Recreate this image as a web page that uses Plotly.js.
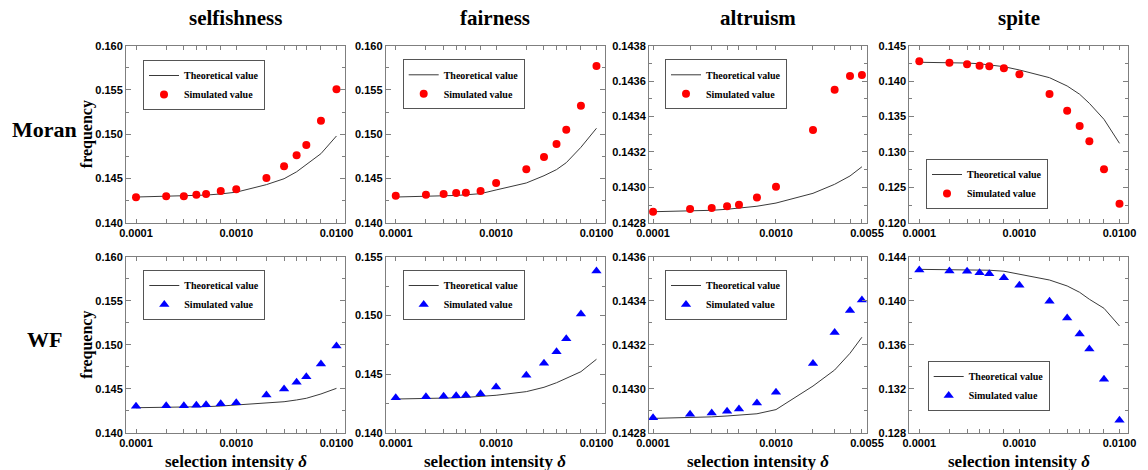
<!DOCTYPE html>
<html>
<head>
<meta charset="utf-8">
<script src="https://cdn.plot.ly/plotly-3.0.1.min.js"></script>
<style>html,body{margin:0;padding:0;background:#fff}#chart{width:1148px;height:470px}</style>
</head>
<body>
<div id="chart"></div>
<script>
// ---------- DATA ----------
const deltaFull = [0.0001,0.0002,0.0003,0.0004,0.0005,0.0007,0.001,0.002,0.003,0.004,0.005,0.007,0.01];
const deltaAltruism = [0.0001,0.0002,0.0003,0.0004,0.0005,0.0007,0.001,0.002,0.003,0.004,0.005];

const columnTitles = ["selfishness","fairness","altruism","spite"];
const rowTitles = ["Moran","WF"];

// Moran process
const selfishMoranTheory = [0.14290,0.14296,0.14300,0.14306,0.14312,0.14325,0.14345,0.14430,0.14497,0.14575,0.14655,0.14780,0.14980];
const selfishMoranSim    = [0.14287,0.14300,0.14300,0.14316,0.14324,0.14358,0.14377,0.14505,0.14637,0.14761,0.14878,0.15153,0.15507];
const fairMoranTheory    = [0.14290,0.14296,0.14302,0.14308,0.14315,0.14328,0.14370,0.14449,0.14531,0.14600,0.14678,0.14852,0.15067];
const fairMoranSim       = [0.14305,0.14316,0.14324,0.14336,0.14339,0.14358,0.14449,0.14603,0.14742,0.14889,0.15051,0.15322,0.15771];
const altrMoranTheory    = [0.142862,0.142866,0.142870,0.142876,0.142882,0.142893,0.142911,0.142966,0.143017,0.143064,0.143116];
const altrMoranSim       = [0.142862,0.142877,0.142883,0.142893,0.142902,0.142943,0.143003,0.143324,0.143551,0.143629,0.143634];
const spiteMoranTheory   = [0.14266,0.14262,0.14255,0.14245,0.14230,0.14204,0.14157,0.14048,0.13931,0.13814,0.13686,0.13460,0.13121];
const spiteMoranSim      = [0.14280,0.14260,0.14237,0.14218,0.14209,0.14181,0.14096,0.13818,0.13582,0.13366,0.13150,0.12754,0.12268];

// Wright-Fisher process
const selfishWFTheory = [0.14284,0.14287,0.14290,0.14293,0.14296,0.14303,0.14315,0.14334,0.14352,0.14372,0.14391,0.14440,0.14504];
const selfishWFSim    = [0.14300,0.14307,0.14307,0.14311,0.14318,0.14330,0.14341,0.14428,0.14497,0.14572,0.14636,0.14781,0.14985];
const fairWFTheory    = [0.14287,0.14290,0.14293,0.14297,0.14301,0.14308,0.14319,0.14350,0.14387,0.14426,0.14463,0.14520,0.14626];
const fairWFSim       = [0.14298,0.14307,0.14310,0.14315,0.14319,0.14332,0.14389,0.14489,0.14591,0.14690,0.14801,0.15012,0.15378];
const altrWFTheory    = [0.142865,0.142868,0.142872,0.142876,0.142880,0.142886,0.142905,0.143012,0.143085,0.143161,0.143234];
const altrWFSim       = [0.142868,0.142884,0.142890,0.142897,0.142908,0.142935,0.142984,0.143114,0.143255,0.143355,0.143403];
const spiteWFTheory   = [0.14285,0.14284,0.14282,0.14280,0.14277,0.14268,0.14240,0.14188,0.14134,0.14076,0.14013,0.13931,0.13770];
const spiteWFSim      = [0.14279,0.14270,0.14267,0.14255,0.14245,0.14209,0.14140,0.13994,0.13843,0.13697,0.13561,0.13285,0.12913];

const xTickLabelsFull = ["0.0001","","","","","","0.0010","","","","","","0.0100"];
const xTickValsAltr = [0.0001,0.0002,0.0003,0.0004,0.0005,0.0007,0.001,0.002,0.003,0.004,0.005,0.0055];
const xTickLabelsAltr = ["0.0001","","","","","","0.0010","","","","","0.0055"];

const seriesLabels = ["Theoretical value","Simulated value"];

// ---------- PANELS ----------
const panelData = [
  [deltaFull, selfishMoranTheory, selfishMoranSim],
  [deltaFull, fairMoranTheory, fairMoranSim],
  [deltaAltruism, altrMoranTheory, altrMoranSim],
  [deltaFull, spiteMoranTheory, spiteMoranSim],
  [deltaFull, selfishWFTheory, selfishWFSim],
  [deltaFull, fairWFTheory, fairWFSim],
  [deltaAltruism, altrWFTheory, altrWFSim],
  [deltaFull, spiteWFTheory, spiteWFSim]
];

// layout geometry (pixels)
const W = 1148, H = 470;
const colX = [[126,345],[385.7,605],[649,867],[909.3,1128]];
const rowY = [[45.7,222.7],[256.7,432.7]];
const yCfg = [
  {r:[0.140,0.160], d:0.005, m:0.0025, f:".3f"},
  {r:[0.140,0.160], d:0.005, m:0.0025, f:".3f"},
  {r:[0.1428,0.1438], d:0.0002, m:0.0001, f:".4f"},
  {r:[0.120,0.145], d:0.005, m:0.0025, f:".3f"},
  {r:[0.140,0.160], d:0.005, m:0.0025, f:".3f"},
  {r:[0.140,0.155], d:0.005, m:0.0025, f:".3f"},
  {r:[0.1428,0.1436], d:0.0002, m:0.0001, f:".4f"},
  {r:[0.128,0.144], d:0.004, m:0.002, f:".3f"}
];
// legend anchor points in pixels
const legPos = [
  {x:143,y:60,a:"top"},{x:402.7,y:59.3,a:"top"},{x:665,y:59.3,a:"top"},{x:926,y:209,a:"bottom"},
  {x:143.3,y:270,a:"top"},{x:402.7,y:270,a:"top"},{x:665,y:270,a:"top"},{x:927.7,y:411,a:"bottom"}
];

const frameColor = "#7f7f7f";
const tickFont = {family:"Liberation Sans, Arial, sans-serif", size:11, color:"#000", weight:"bold"};
const serifBold = (s)=>({family:"Liberation Serif", size:s, color:"#000", weight:"bold"});

const traces = [];
const layout = {
  width: W, height: H,
  margin: {l:0,r:0,t:0,b:0},
  paper_bgcolor: "#fff", plot_bgcolor: "#fff",
  showlegend: true,
  annotations: []
};

panelData.forEach((p, i) => {
  const row = Math.floor(i/4), col = i % 4;
  const suffix = i === 0 ? "" : String(i+1);
  const xa = "x"+suffix, ya = "y"+suffix;
  const legName = "legend"+suffix;
  const simColor = row === 0 ? "#ff0000" : "#0000ff";
  const simSymbol = row === 0 ? "circle" : "triangle-up";
  const isAlt = col === 2;

  traces.push({
    x: p[0], y: p[1], xaxis: xa, yaxis: ya, type: "scatter", mode: "lines",
    name: seriesLabels[0], legend: legName,
    line: {color: "#3a3a3a", width: 1}
  });
  traces.push({
    x: p[0], y: p[2], xaxis: xa, yaxis: ya, type: "scatter", mode: "markers",
    name: seriesLabels[1], legend: legName,
    marker: {color: simColor, symbol: simSymbol, size: row === 0 ? 8 : 9, line:{width:0}}
  });

  const [x0,x1] = colX[col], [y0,y1] = rowY[row];
  const cfg = yCfg[i];
  const eps = (cfg.r[1]-cfg.r[0])*1e-6;
  layout["xaxis"+suffix] = {
    domain: [x0/W, x1/W], anchor: ya, type: "log",
    range: isAlt ? [-4.033, Math.log10(0.0055)] : [-4.1, -1.915],
    tickmode: "array",
    tickvals: isAlt ? xTickValsAltr : deltaFull,
    ticktext: isAlt ? xTickLabelsAltr : xTickLabelsFull,
    ticks: "inside", ticklen: 4, tickcolor: frameColor, tickwidth: 1,
    showline: true, linecolor: frameColor, linewidth: 1, mirror: "allticks",
    showgrid: false, zeroline: false, tickfont: tickFont, fixedrange: true
  };
  layout["yaxis"+suffix] = {
    domain: [1 - y1/H, 1 - y0/H], anchor: xa,
    range: [cfg.r[0]-eps, cfg.r[1]+eps],
    tickmode: "linear", tick0: cfg.r[0], dtick: cfg.d, tickformat: cfg.f,
    ticks: "inside", ticklen: 5, tickcolor: frameColor, tickwidth: 1,
    minor: {dtick: cfg.m, tick0: cfg.r[0], ticks: "inside", ticklen: 3, tickcolor: frameColor, showgrid:false},
    showline: true, linecolor: frameColor, linewidth: 1, mirror: "allticks",
    showgrid: false, zeroline: false, tickfont: tickFont, fixedrange: true
  };

  const lp = legPos[i];
  layout[legName] = {
    x: lp.x/W, y: 1 - lp.y/H, xanchor: "left", yanchor: lp.a,
    xref: "paper", yref: "paper",
    bgcolor: "#fff", bordercolor: "#555", borderwidth: 1,
    font: serifBold(10), itemwidth: 30, tracegroupgap: 0
  };
});

// column titles and x-axis titles
columnTitles.forEach((t, c) => {
  layout.annotations.push({
    text: t, xref: "paper", yref: "paper",
    x: (colX[c][0]+colX[c][1])/2/W, y: 1 - 18/H,
    xanchor: "center", yanchor: "middle", showarrow: false, font: serifBold(21)
  });
  layout.annotations.push({
    text: "selection intensity <i>δ</i>", xref: "paper", yref: "paper",
    x: (colX[c][0]+colX[c][1])/2/W, y: 1 - 461/H,
    xanchor: "center", yanchor: "middle", showarrow: false, font: serifBold(17)
  });
});
// row titles + y titles
rowTitles.forEach((t, r) => {
  const mid = (rowY[r][0]+rowY[r][1])/2;
  layout.annotations.push({
    text: t, xref: "paper", yref: "paper",
    x: 44/W, y: 1 - (mid - 5)/H,
    xanchor: "center", yanchor: "middle", showarrow: false, font: serifBold(22)
  });
  layout.annotations.push({
    text: "frequency", xref: "paper", yref: "paper",
    x: 87/W, y: 1 - mid/H, textangle: -90,
    xanchor: "center", yanchor: "middle", showarrow: false, font: serifBold(16)
  });
});

Plotly.newPlot("chart", traces, layout, {staticPlot: true, displayModeBar: false});
</script>
</body>
</html>
